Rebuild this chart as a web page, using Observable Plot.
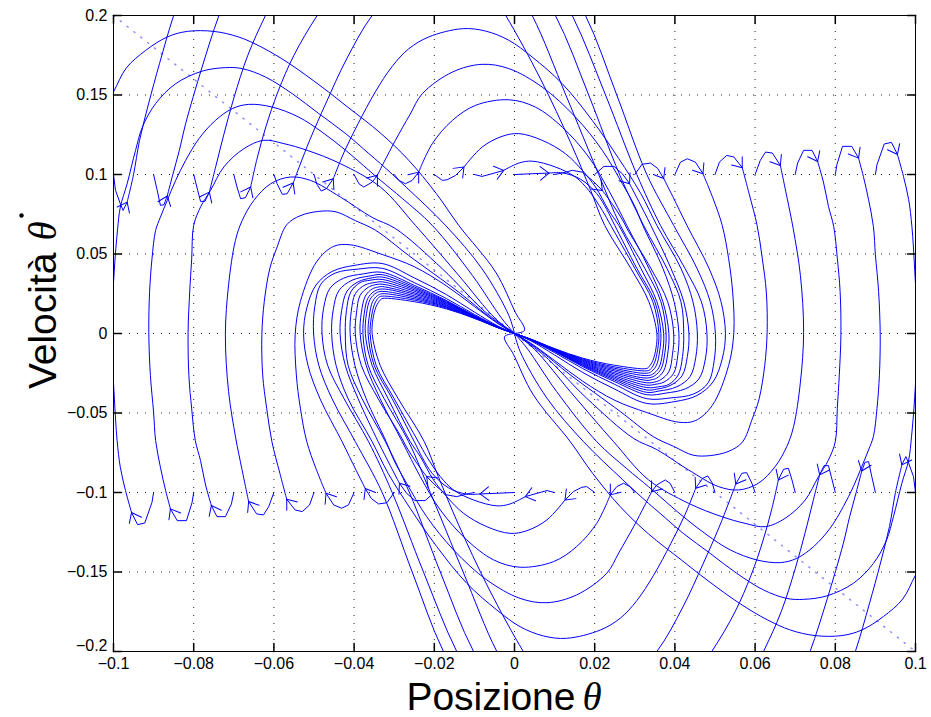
<!DOCTYPE html>
<html><head><meta charset="utf-8">
<script src="https://cdn.jsdelivr.net/npm/d3@7"></script>
<script src="https://cdn.jsdelivr.net/npm/@observablehq/plot@0.6"></script>
<style>body{margin:0;background:#fff}</style>
</head><body><div id="chart"></div>
<script>
const xTicks = [-0.1,-0.08,-0.06,-0.04,-0.02,0,0.02,0.04,0.06,0.08,0.1];
const xTickLabels = ["−0.1","−0.08","−0.06","−0.04","−0.02","0","0.02","0.04","0.06","0.08","0.1"];
const yTicks = [-0.2,-0.15,-0.1,-0.05,0,0.05,0.1,0.15,0.2];
const yTickLabels = ["−0.2","−0.15","−0.1","−0.05","0","0.05","0.1","0.15","0.2"];
const startX = [-0.1,-0.09,-0.08,-0.07,-0.06,-0.05,-0.04,-0.03,-0.02,-0.01,0,0.01,0.02,0.03,0.04,0.05,0.06,0.07,0.08,0.09,0.1];
const slideX = [-0.1, 0.1];
const slideY = [0.2, -0.2];

// trajectories starting on theta' = +0.1 : initial transient (ending at the arrow tip) and continuation
const upperV = [
[[-0.1,0.1],[-0.0995,0.09],[-0.0983,0.0816],[-0.0976,0.0774],[-0.0966,0.0826]],
[[-0.09,0.1],[-0.0891,0.09],[-0.0883,0.0806],[-0.0874,0.081],[-0.0866,0.0865]],
[[-0.08,0.1],[-0.079,0.09],[-0.0783,0.0831],[-0.0772,0.0831],[-0.0761,0.0889]],
[[-0.07,0.1],[-0.0692,0.0921],[-0.0683,0.0848],[-0.0671,0.0854],[-0.0658,0.0921]],
[[-0.06,0.1],[-0.0592,0.0942],[-0.0579,0.0875],[-0.0567,0.0879],[-0.0552,0.0946]],
[[-0.05,0.1],[-0.0493,0.094],[-0.0482,0.0896],[-0.0469,0.0911],[-0.0452,0.0973]],
[[-0.04,0.1],[-0.0388,0.0942],[-0.0376,0.0921],[-0.0355,0.0952],[-0.0342,0.0995]],
[[-0.03,0.1],[-0.0288,0.0963],[-0.0272,0.0942],[-0.0255,0.0963],[-0.0239,0.1015]],
[[-0.02,0.1],[-0.018,0.0963],[-0.0168,0.0967],[-0.0147,0.0994],[-0.0126,0.1047]],
[[-0.01,0.1],[-0.0081,0.0988],[-0.0056,0.1005],[-0.0027,0.1026]],
[[0,0.1],[0.0044,0.1005],[0.0086,0.1009]],
[[0.01,0.1],[0.0119,0.1009],[0.0144,0.1026],[0.0169,0.1015],[0.0194,0.0963],[0.0219,0.09]],
[[0.02,0.1],[0.0223,0.1051],[0.0248,0.1051],[0.0269,0.1005],[0.0287,0.0942]],
[[0.03,0.1],[0.0318,0.1064],[0.0339,0.1072],[0.0357,0.1038],[0.0372,0.0975]],
[[0.04,0.1],[0.0414,0.1078],[0.0431,0.1099],[0.0451,0.1078],[0.047,0.1005]],
[[0.05,0.1],[0.0511,0.1078],[0.0529,0.112],[0.0547,0.111],[0.0568,0.1043]],
[[0.06,0.1],[0.0613,0.1089],[0.0626,0.1141],[0.0643,0.1135],[0.0663,0.1057]],
[[0.07,0.1],[0.0706,0.1072],[0.0721,0.1152],[0.0742,0.1152],[0.0756,0.1082]],
[[0.08,0.1],[0.0804,0.1062],[0.0818,0.1177],[0.0841,0.1177],[0.0858,0.1103]],
[[0.09,0.1],[0.0904,0.1062],[0.0922,0.1192],[0.094,0.1202],[0.0955,0.1126]],
[[0.1,0.1],[0.1005,0.108],[0.1025,0.122],[0.1045,0.123],[0.106,0.115]]
];
const upperPath = [
[[-0.095,0.1],[-0.0935,0.1215],[-0.0912,0.145],[-0.0885,0.17],[-0.085,0.2],[-0.08,0.235],[0.008,0.24],[0.0177,0.2],[0.0255,0.15],[0.033,0.1],[0.0397,0.068],[0.0455,0.041],[0.0488,0.02],[0.0501,0],[0.0498,-0.017],[0.0483,-0.031],[0.0447,-0.038],[0.039,-0.0405],[0.033,-0.041],[0.025,-0.032],[0.017,-0.022],[0.01,-0.012],[0.004,-0.0042],[0,0]],
[[-0.0852,0.1],[-0.0836,0.115],[-0.082,0.132],[-0.0779,0.1676],[-0.0737,0.2],[-0.068,0.235],[0.004,0.245],[0.0144,0.2],[0.0227,0.15],[0.0305,0.1],[0.0364,0.068],[0.0425,0.041],[0.0466,0.02],[0.048,0],[0.0476,-0.016],[0.046,-0.0285],[0.0426,-0.0348],[0.0377,-0.0375],[0.033,-0.0385],[0.025,-0.0303],[0.017,-0.0208],[0.01,-0.0113],[0.004,-0.004],[0,0]],
[[-0.0745,0.105],[-0.0725,0.125],[-0.07,0.148],[-0.0665,0.175],[-0.0621,0.2],[-0.055,0.235],[0,0.24],[0.0102,0.2],[0.0185,0.15],[0.0262,0.1],[0.0322,0.068],[0.038,0.041],[0.0415,0.02],[0.0422,0],[0.0419,-0.0145],[0.0408,-0.0262],[0.0385,-0.032],[0.036,-0.0335],[0.033,-0.034],[0.025,-0.0275],[0.017,-0.0194],[0.01,-0.0108],[0.004,-0.0039],[0,0]],
[[-0.0642,0.11],[-0.062,0.13],[-0.059,0.152],[-0.055,0.175],[-0.0492,0.2],[-0.042,0.225],[-0.003,0.23],[0.0044,0.2],[0.0128,0.15],[0.021,0.1],[0.0264,0.068],[0.0325,0.041],[0.0365,0.02],[0.0378,0],[0.0375,-0.012],[0.0366,-0.022],[0.035,-0.0265],[0.033,-0.028],[0.025,-0.0237],[0.017,-0.0174],[0.01,-0.0102],[0.004,-0.0037],[0,0]],
[[-0.0535,0.106],[-0.051,0.122],[-0.047,0.145],[-0.042,0.172],[-0.0355,0.2],[-0.028,0.22],[-0.008,0.222],[-0.0022,0.2],[0.0065,0.16],[0.014,0.12],[0.019,0.09],[0.0225,0.068],[0.029,0.041],[0.0335,0.02],[0.0355,0],[0.0353,-0.009],[0.0345,-0.017],[0.0335,-0.021],[0.033,-0.022],[0.025,-0.02],[0.017,-0.0155],[0.01,-0.0095],[0.004,-0.0035],[0,0]],
[[-0.0425,0.114],[-0.039,0.132],[-0.0347,0.152],[-0.0305,0.168],[-0.0264,0.179],[-0.0214,0.1865],[-0.013,0.1917],[-0.0072,0.1902],[-0.0014,0.1844],[0.0044,0.1739],[0.0119,0.1571],[0.0194,0.134],[0.026,0.11],[0.0315,0.088],[0.0355,0.068],[0.0415,0.041],[0.0445,0.02],[0.0456,0],[0.0452,-0.015],[0.0438,-0.027],[0.0405,-0.0335],[0.036,-0.0362],[0.033,-0.037],[0.025,-0.0293],[0.017,-0.0203],[0.01,-0.0112],[0.004,-0.004],[0,0]],
[[-0.0325,0.108],[-0.0297,0.1215],[-0.026,0.138],[-0.023,0.1508],[-0.0155,0.1644],[-0.0081,0.1693],[-0.0014,0.1666],[0.0069,0.155],[0.0152,0.1361],[0.0219,0.1152],[0.0269,0.0942],[0.03,0.08],[0.032,0.068],[0.037,0.041],[0.0398,0.02],[0.041,0],[0.0407,-0.014],[0.0397,-0.025],[0.0373,-0.0305],[0.035,-0.032],[0.033,-0.0325],[0.025,-0.0266],[0.017,-0.0189],[0.01,-0.0107],[0.004,-0.0038],[0,0]],
[[-0.0205,0.1194],[-0.0155,0.134],[-0.0097,0.1435],[-0.0014,0.147],[0.0052,0.1424],[0.0119,0.1298],[0.0185,0.111],[0.0235,0.09],[0.028,0.068],[0.0335,0.041],[0.037,0.02],[0.0385,0],[0.0382,-0.013],[0.0372,-0.0235],[0.0355,-0.028],[0.034,-0.0292],[0.033,-0.0295],[0.025,-0.0247],[0.017,-0.0179],[0.01,-0.0103],[0.004,-0.0037],[0,0]],
[[-0.0081,0.1172],[-0.0031,0.124],[0.0011,0.1257],[0.0069,0.1215],[0.0127,0.1131],[0.0169,0.1026],[0.0202,0.0921],[0.0235,0.0774],[0.026,0.068],[0.0315,0.041],[0.0355,0.02],[0.0372,0],[0.0369,-0.0125],[0.036,-0.0215],[0.0345,-0.0255],[0.033,-0.0265],[0.025,-0.0228],[0.017,-0.0169],[0.01,-0.01],[0.004,-0.0036],[0,0]],
[[0.0011,0.1072],[0.0044,0.1084],[0.0102,0.1047],[0.0152,0.0984],[0.0185,0.09],[0.0219,0.0774],[0.024,0.068],[0.03,0.041],[0.0345,0.02],[0.036,0],[0.0357,-0.01],[0.0349,-0.0185],[0.0338,-0.0228],[0.033,-0.0235],[0.025,-0.021],[0.017,-0.016],[0.01,-0.0097],[0.004,-0.0035],[0,0]],
[[0.012,0.101],[0.0165,0.097],[0.0205,0.088],[0.023,0.078],[0.025,0.068],[0.0305,0.041],[0.035,0.02],[0.0365,0],[0.0362,-0.011],[0.0354,-0.02],[0.0342,-0.0238],[0.033,-0.025],[0.025,-0.0219],[0.017,-0.0165],[0.01,-0.0098],[0.004,-0.0036],[0,0]],
[[0.0245,0.081],[0.0268,0.072],[0.0285,0.064],[0.034,0.041],[0.0382,0.02],[0.0397,0],[0.0394,-0.013],[0.0385,-0.024],[0.0365,-0.029],[0.035,-0.0305],[0.033,-0.031],[0.025,-0.0256],[0.017,-0.0184],[0.01,-0.0105],[0.004,-0.0038],[0,0]],
[[0.031,0.083],[0.034,0.068],[0.039,0.041],[0.0422,0.02],[0.0435,0],[0.0431,-0.0145],[0.0418,-0.0265],[0.039,-0.0325],[0.0355,-0.035],[0.033,-0.0355],[0.025,-0.0284],[0.017,-0.0198],[0.01,-0.011],[0.004,-0.0039],[0,0]],
[[0.0395,0.086],[0.043,0.068],[0.0485,0.041],[0.0515,0.02],[0.0526,0],[0.0518,-0.016],[0.0495,-0.0305],[0.0455,-0.039],[0.04,-0.0428],[0.033,-0.044],[0.025,-0.035],[0.017,-0.0245],[0.01,-0.0135],[0.004,-0.0045],[0,0]],
[[0.0495,0.085],[0.0518,0.068],[0.0534,0.047],[0.0544,0.026],[0.0547,0.0008],[0.0534,-0.0201],[0.0493,-0.0453],[0.0451,-0.0548],[0.041,-0.0558],[0.033,-0.0497],[0.025,-0.042],[0.017,-0.03],[0.01,-0.017],[0.004,-0.006],[0,0]],
[[0.0585,0.088],[0.0605,0.068],[0.0618,0.047],[0.0628,0.026],[0.063,0.0008],[0.0624,-0.0201],[0.061,-0.0411],[0.0593,-0.0537],[0.0568,-0.0684],[0.0535,-0.074],[0.0488,-0.0768],[0.0445,-0.0765],[0.0397,-0.071],[0.0347,-0.065],[0.0264,-0.0491],[0.0139,-0.026],[0.006,-0.01],[0,0]],
[[0.068,0.085],[0.0695,0.066],[0.0713,0.0365],[0.0721,0.0008],[0.0713,-0.0306],[0.0696,-0.0585],[0.0679,-0.0711],[0.065,-0.0837],[0.0608,-0.0942],[0.0559,-0.0984],[0.0509,-0.0963],[0.0434,-0.0858],[0.0355,-0.073],[0.0297,-0.066],[0.018,-0.0407],[0.0072,-0.0134],[0,0]],
[[0.0771,0.0946],[0.0783,0.0799],[0.0796,0.0673],[0.0805,0.0474],[0.0812,0.0264],[0.0814,-0.0008],[0.081,-0.026],[0.0805,-0.047],[0.08,-0.068],[0.0782,-0.08],[0.0758,-0.09],[0.0725,-0.1047],[0.0675,-0.1162],[0.0625,-0.1215],[0.0575,-0.1194],[0.0517,-0.1152],[0.0434,-0.1068],[0.0334,-0.092],[0.0247,-0.068],[0.0139,-0.0365],[0.0047,-0.0092],[0,0]],
[[0.087,0.0988],[0.0883,0.0841],[0.0895,0.0673],[0.09,0.0495],[0.0908,0.0264],[0.0912,-0.0008],[0.091,-0.026],[0.0904,-0.047],[0.0895,-0.0648],[0.0883,-0.0732],[0.0866,-0.0837],[0.0845,-0.0963],[0.082,-0.1089],[0.0787,-0.1225],[0.0746,-0.134],[0.0704,-0.1414],[0.0663,-0.1441],[0.0604,-0.1424],[0.0538,-0.1361],[0.048,-0.1267],[0.0421,-0.1152],[0.0363,-0.1026],[0.0334,-0.0963],[0.028,-0.085],[0.0205,-0.068],[0.0105,-0.0365],[0.0031,-0.0092],[0,0]],
[[0.097,0.0988],[0.0983,0.0841],[0.0991,0.0673],[0.0998,0.04],[0.1005,0],[0.0998,-0.04],[0.099,-0.065],[0.0983,-0.0795],[0.0966,-0.0942],[0.0945,-0.1152],[0.0928,-0.1298],[0.0895,-0.1446],[0.0845,-0.1571],[0.0779,-0.165],[0.0721,-0.1672],[0.0679,-0.1666],[0.0621,-0.1613],[0.0554,-0.1508],[0.0488,-0.1383],[0.0421,-0.1257],[0.0363,-0.1131],[0.0334,-0.1068],[0.027,-0.092],[0.0172,-0.068],[0.0081,-0.0407],[0.0014,-0.0113],[0,0]],
[[0.108,0.1],[0.11,0.08],[0.112,0.04],[0.113,0],[0.112,-0.05],[0.109,-0.1],[0.105,-0.13],[0.1,-0.152],[0.0968,-0.167],[0.092,-0.178],[0.0866,-0.1865],[0.0816,-0.19],[0.075,-0.19],[0.0688,-0.1865],[0.063,-0.18],[0.0563,-0.17],[0.048,-0.155],[0.0416,-0.1424],[0.0334,-0.126],[0.0264,-0.109],[0.0195,-0.088],[0.0139,-0.068],[0.0047,-0.0386],[-0.0002,-0.0134],[-0.0025,-0.002],[0,0]]
];

// trajectories starting on theta' = -0.1
const lowerV = [
[[-0.1,-0.1],[-0.1005,-0.108],[-0.1025,-0.122],[-0.1045,-0.123],[-0.106,-0.115]],
[[-0.09,-0.1],[-0.0904,-0.1062],[-0.0922,-0.1192],[-0.094,-0.1202],[-0.0955,-0.1126]],
[[-0.08,-0.1],[-0.0804,-0.1062],[-0.0818,-0.1177],[-0.0841,-0.1177],[-0.0858,-0.1103]],
[[-0.07,-0.1],[-0.0706,-0.1072],[-0.0721,-0.1152],[-0.0742,-0.1152],[-0.0756,-0.1082]],
[[-0.06,-0.1],[-0.0613,-0.1089],[-0.0626,-0.1141],[-0.0643,-0.1135],[-0.0663,-0.1057]],
[[-0.05,-0.1],[-0.0511,-0.1078],[-0.0529,-0.112],[-0.0547,-0.111],[-0.0568,-0.1043]],
[[-0.04,-0.1],[-0.0414,-0.1078],[-0.0431,-0.1099],[-0.0451,-0.1078],[-0.047,-0.1005]],
[[-0.03,-0.1],[-0.0318,-0.1064],[-0.0339,-0.1072],[-0.0357,-0.1038],[-0.0372,-0.0975]],
[[-0.02,-0.1],[-0.0223,-0.1051],[-0.0248,-0.1051],[-0.0269,-0.1005],[-0.0287,-0.0942]],
[[-0.01,-0.1],[-0.0119,-0.1009],[-0.0144,-0.1026],[-0.0169,-0.1015],[-0.0194,-0.0963],[-0.0219,-0.09]],
[[0,-0.1],[-0.0044,-0.1005],[-0.0086,-0.1009]],
[[0.01,-0.1],[0.0081,-0.0988],[0.0056,-0.1005],[0.0027,-0.1026]],
[[0.02,-0.1],[0.018,-0.0963],[0.0168,-0.0967],[0.0147,-0.0994],[0.0126,-0.1047]],
[[0.03,-0.1],[0.0288,-0.0963],[0.0272,-0.0942],[0.0255,-0.0963],[0.0239,-0.1015]],
[[0.04,-0.1],[0.0388,-0.0942],[0.0376,-0.0921],[0.0355,-0.0952],[0.0342,-0.0995]],
[[0.05,-0.1],[0.0493,-0.094],[0.0482,-0.0896],[0.0469,-0.0911],[0.0452,-0.0973]],
[[0.06,-0.1],[0.0592,-0.0942],[0.0579,-0.0875],[0.0567,-0.0879],[0.0552,-0.0946]],
[[0.07,-0.1],[0.0692,-0.0921],[0.0683,-0.0848],[0.0671,-0.0854],[0.0658,-0.0921]],
[[0.08,-0.1],[0.079,-0.09],[0.0783,-0.0831],[0.0772,-0.0831],[0.0761,-0.0889]],
[[0.09,-0.1],[0.0891,-0.09],[0.0883,-0.0806],[0.0874,-0.081],[0.0866,-0.0865]],
[[0.1,-0.1],[0.0995,-0.09],[0.0983,-0.0816],[0.0976,-0.0774],[0.0966,-0.0826]]
];
const lowerPath = [
[[-0.108,-0.1],[-0.11,-0.08],[-0.112,-0.04],[-0.113,0],[-0.112,0.05],[-0.109,0.1],[-0.105,0.13],[-0.1,0.152],[-0.0968,0.167],[-0.092,0.178],[-0.0866,0.1865],[-0.0816,0.19],[-0.075,0.19],[-0.0688,0.1865],[-0.063,0.18],[-0.0563,0.17],[-0.048,0.155],[-0.0416,0.1424],[-0.0334,0.126],[-0.0264,0.109],[-0.0195,0.088],[-0.0139,0.068],[-0.0047,0.0386],[0.0002,0.0134],[0.0025,0.002],[0,0]],
[[-0.097,-0.0988],[-0.0983,-0.0841],[-0.0991,-0.0673],[-0.0998,-0.04],[-0.1005,0],[-0.0998,0.04],[-0.099,0.065],[-0.0983,0.0795],[-0.0966,0.0942],[-0.0945,0.1152],[-0.0928,0.1298],[-0.0895,0.1446],[-0.0845,0.1571],[-0.0779,0.165],[-0.0721,0.1672],[-0.0679,0.1666],[-0.0621,0.1613],[-0.0554,0.1508],[-0.0488,0.1383],[-0.0421,0.1257],[-0.0363,0.1131],[-0.0334,0.1068],[-0.027,0.092],[-0.0172,0.068],[-0.0081,0.0407],[-0.0014,0.0113],[0,0]],
[[-0.087,-0.0988],[-0.0883,-0.0841],[-0.0895,-0.0673],[-0.09,-0.0495],[-0.0908,-0.0264],[-0.0912,0.0008],[-0.091,0.026],[-0.0904,0.047],[-0.0895,0.0648],[-0.0883,0.0732],[-0.0866,0.0837],[-0.0845,0.0963],[-0.082,0.1089],[-0.0787,0.1225],[-0.0746,0.134],[-0.0704,0.1414],[-0.0663,0.1441],[-0.0604,0.1424],[-0.0538,0.1361],[-0.048,0.1267],[-0.0421,0.1152],[-0.0363,0.1026],[-0.0334,0.0963],[-0.028,0.085],[-0.0205,0.068],[-0.0105,0.0365],[-0.0031,0.0092],[0,0]],
[[-0.0771,-0.0946],[-0.0783,-0.0799],[-0.0796,-0.0673],[-0.0805,-0.0474],[-0.0812,-0.0264],[-0.0814,0.0008],[-0.081,0.026],[-0.0805,0.047],[-0.08,0.068],[-0.0782,0.08],[-0.0758,0.09],[-0.0725,0.1047],[-0.0675,0.1162],[-0.0625,0.1215],[-0.0575,0.1194],[-0.0517,0.1152],[-0.0434,0.1068],[-0.0334,0.092],[-0.0247,0.068],[-0.0139,0.0365],[-0.0047,0.0092],[0,0]],
[[-0.068,-0.085],[-0.0695,-0.066],[-0.0713,-0.0365],[-0.0721,-0.0008],[-0.0713,0.0306],[-0.0696,0.0585],[-0.0679,0.0711],[-0.065,0.0837],[-0.0608,0.0942],[-0.0559,0.0984],[-0.0509,0.0963],[-0.0434,0.0858],[-0.0355,0.073],[-0.0297,0.066],[-0.018,0.0407],[-0.0072,0.0134],[0,0]],
[[-0.0585,-0.088],[-0.0605,-0.068],[-0.0618,-0.047],[-0.0628,-0.026],[-0.063,-0.0008],[-0.0624,0.0201],[-0.061,0.0411],[-0.0593,0.0537],[-0.0568,0.0684],[-0.0535,0.074],[-0.0488,0.0768],[-0.0445,0.0765],[-0.0397,0.071],[-0.0347,0.065],[-0.0264,0.0491],[-0.0139,0.026],[-0.006,0.01],[0,0]],
[[-0.0495,-0.085],[-0.0518,-0.068],[-0.0534,-0.047],[-0.0544,-0.026],[-0.0547,-0.0008],[-0.0534,0.0201],[-0.0493,0.0453],[-0.0451,0.0548],[-0.041,0.0558],[-0.033,0.0497],[-0.025,0.042],[-0.017,0.03],[-0.01,0.017],[-0.004,0.006],[0,0]],
[[-0.0395,-0.086],[-0.043,-0.068],[-0.0485,-0.041],[-0.0515,-0.02],[-0.0526,0],[-0.0518,0.016],[-0.0495,0.0305],[-0.0455,0.039],[-0.04,0.0428],[-0.033,0.044],[-0.025,0.035],[-0.017,0.0245],[-0.01,0.0135],[-0.004,0.0045],[0,0]],
[[-0.031,-0.083],[-0.034,-0.068],[-0.039,-0.041],[-0.0422,-0.02],[-0.0435,0],[-0.0431,0.0145],[-0.0418,0.0265],[-0.039,0.0325],[-0.0355,0.035],[-0.033,0.0355],[-0.025,0.0284],[-0.017,0.0198],[-0.01,0.011],[-0.004,0.0039],[0,0]],
[[-0.0245,-0.081],[-0.0268,-0.072],[-0.0285,-0.064],[-0.034,-0.041],[-0.0382,-0.02],[-0.0397,0],[-0.0394,0.013],[-0.0385,0.024],[-0.0365,0.029],[-0.035,0.0305],[-0.033,0.031],[-0.025,0.0256],[-0.017,0.0184],[-0.01,0.0105],[-0.004,0.0038],[0,0]],
[[-0.012,-0.101],[-0.0165,-0.097],[-0.0205,-0.088],[-0.023,-0.078],[-0.025,-0.068],[-0.0305,-0.041],[-0.035,-0.02],[-0.0365,0],[-0.0362,0.011],[-0.0354,0.02],[-0.0342,0.0238],[-0.033,0.025],[-0.025,0.0219],[-0.017,0.0165],[-0.01,0.0098],[-0.004,0.0036],[0,0]],
[[-0.0011,-0.1072],[-0.0044,-0.1084],[-0.0102,-0.1047],[-0.0152,-0.0984],[-0.0185,-0.09],[-0.0219,-0.0774],[-0.024,-0.068],[-0.03,-0.041],[-0.0345,-0.02],[-0.036,0],[-0.0357,0.01],[-0.0349,0.0185],[-0.0338,0.0228],[-0.033,0.0235],[-0.025,0.021],[-0.017,0.016],[-0.01,0.0097],[-0.004,0.0035],[0,0]],
[[0.0081,-0.1172],[0.0031,-0.124],[-0.0011,-0.1257],[-0.0069,-0.1215],[-0.0127,-0.1131],[-0.0169,-0.1026],[-0.0202,-0.0921],[-0.0235,-0.0774],[-0.026,-0.068],[-0.0315,-0.041],[-0.0355,-0.02],[-0.0372,0],[-0.0369,0.0125],[-0.036,0.0215],[-0.0345,0.0255],[-0.033,0.0265],[-0.025,0.0228],[-0.017,0.0169],[-0.01,0.01],[-0.004,0.0036],[0,0]],
[[0.0205,-0.1194],[0.0155,-0.134],[0.0097,-0.1435],[0.0014,-0.147],[-0.0052,-0.1424],[-0.0119,-0.1298],[-0.0185,-0.111],[-0.0235,-0.09],[-0.028,-0.068],[-0.0335,-0.041],[-0.037,-0.02],[-0.0385,0],[-0.0382,0.013],[-0.0372,0.0235],[-0.0355,0.028],[-0.034,0.0292],[-0.033,0.0295],[-0.025,0.0247],[-0.017,0.0179],[-0.01,0.0103],[-0.004,0.0037],[0,0]],
[[0.0325,-0.108],[0.0297,-0.1215],[0.026,-0.138],[0.023,-0.1508],[0.0155,-0.1644],[0.0081,-0.1693],[0.0014,-0.1666],[-0.0069,-0.155],[-0.0152,-0.1361],[-0.0219,-0.1152],[-0.0269,-0.0942],[-0.03,-0.08],[-0.032,-0.068],[-0.037,-0.041],[-0.0398,-0.02],[-0.041,0],[-0.0407,0.014],[-0.0397,0.025],[-0.0373,0.0305],[-0.035,0.032],[-0.033,0.0325],[-0.025,0.0266],[-0.017,0.0189],[-0.01,0.0107],[-0.004,0.0038],[0,0]],
[[0.0425,-0.114],[0.039,-0.132],[0.0347,-0.152],[0.0305,-0.168],[0.0264,-0.179],[0.0214,-0.1865],[0.013,-0.1917],[0.0072,-0.1902],[0.0014,-0.1844],[-0.0044,-0.1739],[-0.0119,-0.1571],[-0.0194,-0.134],[-0.026,-0.11],[-0.0315,-0.088],[-0.0355,-0.068],[-0.0415,-0.041],[-0.0445,-0.02],[-0.0456,0],[-0.0452,0.015],[-0.0438,0.027],[-0.0405,0.0335],[-0.036,0.0362],[-0.033,0.037],[-0.025,0.0293],[-0.017,0.0203],[-0.01,0.0112],[-0.004,0.004],[0,0]],
[[0.0535,-0.106],[0.051,-0.122],[0.047,-0.145],[0.042,-0.172],[0.0355,-0.2],[0.028,-0.22],[0.008,-0.222],[0.0022,-0.2],[-0.0065,-0.16],[-0.014,-0.12],[-0.019,-0.09],[-0.0225,-0.068],[-0.029,-0.041],[-0.0335,-0.02],[-0.0355,0],[-0.0353,0.009],[-0.0345,0.017],[-0.0335,0.021],[-0.033,0.022],[-0.025,0.02],[-0.017,0.0155],[-0.01,0.0095],[-0.004,0.0035],[0,0]],
[[0.0642,-0.11],[0.062,-0.13],[0.059,-0.152],[0.055,-0.175],[0.0492,-0.2],[0.042,-0.225],[0.003,-0.23],[-0.0044,-0.2],[-0.0128,-0.15],[-0.021,-0.1],[-0.0264,-0.068],[-0.0325,-0.041],[-0.0365,-0.02],[-0.0378,0],[-0.0375,0.012],[-0.0366,0.022],[-0.035,0.0265],[-0.033,0.028],[-0.025,0.0237],[-0.017,0.0174],[-0.01,0.0102],[-0.004,0.0037],[0,0]],
[[0.0745,-0.105],[0.0725,-0.125],[0.07,-0.148],[0.0665,-0.175],[0.0621,-0.2],[0.055,-0.235],[0,-0.24],[-0.0102,-0.2],[-0.0185,-0.15],[-0.0262,-0.1],[-0.0322,-0.068],[-0.038,-0.041],[-0.0415,-0.02],[-0.0422,0],[-0.0419,0.0145],[-0.0408,0.0262],[-0.0385,0.032],[-0.036,0.0335],[-0.033,0.034],[-0.025,0.0275],[-0.017,0.0194],[-0.01,0.0108],[-0.004,0.0039],[0,0]],
[[0.0852,-0.1],[0.0836,-0.115],[0.082,-0.132],[0.0779,-0.1676],[0.0737,-0.2],[0.068,-0.235],[-0.004,-0.245],[-0.0144,-0.2],[-0.0227,-0.15],[-0.0305,-0.1],[-0.0364,-0.068],[-0.0425,-0.041],[-0.0466,-0.02],[-0.048,0],[-0.0476,0.016],[-0.046,0.0285],[-0.0426,0.0348],[-0.0377,0.0375],[-0.033,0.0385],[-0.025,0.0303],[-0.017,0.0208],[-0.01,0.0113],[-0.004,0.004],[0,0]],
[[0.095,-0.1],[0.0935,-0.1215],[0.0912,-0.145],[0.0885,-0.17],[0.085,-0.2],[0.08,-0.235],[-0.008,-0.24],[-0.0177,-0.2],[-0.0255,-0.15],[-0.033,-0.1],[-0.0397,-0.068],[-0.0455,-0.041],[-0.0488,-0.02],[-0.0501,0],[-0.0498,0.017],[-0.0483,0.031],[-0.0447,0.038],[-0.039,0.0405],[-0.033,0.041],[-0.025,0.032],[-0.017,0.022],[-0.01,0.012],[-0.004,0.0042],[0,0]]
];

const W = 931, H = 717, ML = 113, MR = 16, MT = 15, MB = 66;
const kx = (W - ML - MR) / 0.2, ky = (H - MT - MB) / 0.4;
const BLUE = "#0000ff";

const vRows = [], pRows = [], arrows = [];
[["u", upperV, upperPath], ["l", lowerV, lowerPath]].forEach(([tag, Vs, Ps]) => {
  Vs.forEach((V, i) => {
    const id = tag + startX[i];
    V.forEach(([x, y]) => vRows.push({id, x, y}));
    const tip = V[V.length - 1];
    [tip].concat(Ps[i]).forEach(([x, y]) => pRows.push({id, x, y}));
    const [px, py] = V[V.length - 2], [tx, ty] = tip;
    arrows.push({x: tx, y: ty, r: Math.atan2((tx - px) * kx, (ty - py) * ky) * 180 / Math.PI});
  });
});
const slide = slideX.map((x, i) => ({x, y: slideY[i]}));

const wingShape = {draw(ctx, l) {
  const a = 38 * Math.PI / 180, L = 11;
  ctx.moveTo(-L * Math.sin(a), -l + L * Math.cos(a));
  ctx.lineTo(0, -l);
  ctx.lineTo(L * Math.sin(a), -l + L * Math.cos(a));
}};
const tickShape = {draw(ctx, l) { ctx.moveTo(0, 0); ctx.lineTo(0, -l); }};
const yMain = yTicks.filter(d => d !== -0.2);

const chart = Plot.plot({
  width: W, height: H,
  marginLeft: ML, marginRight: MR, marginTop: MT, marginBottom: MB,
  x: {domain: [-0.1, 0.1], axis: null},
  y: {domain: [-0.2, 0.2], axis: null},
  style: {background: "#fff", fontFamily: "'Liberation Sans', Arial, sans-serif"},
  marks: [
    Plot.ruleX(xTicks, {stroke: "#222", strokeDasharray: "1,7"}),
    Plot.ruleY(yTicks, {stroke: "#222", strokeDasharray: "1,7"}),
    Plot.line(slide, {x: "x", y: "y", stroke: BLUE, strokeOpacity: 0.45, strokeDasharray: "1.2,7.5"}),
    Plot.line(vRows, {x: "x", y: "y", z: "id", stroke: BLUE, strokeWidth: 1, clip: true}),
    Plot.line(pRows, {x: "x", y: "y", z: "id", stroke: BLUE, strokeWidth: 1, curve: "catmull-rom", clip: true}),
    Plot.vector(arrows, {x: "x", y: "y", rotate: "r", length: 11, anchor: "end", shape: wingShape, stroke: BLUE, strokeWidth: 1, clip: true}),
    Plot.frame({stroke: "#000", strokeWidth: 1}),
    Plot.vector(xTicks, {x: d => d, frameAnchor: "bottom", rotate: 0, length: 8, anchor: "start", shape: tickShape, stroke: "#000"}),
    Plot.vector(xTicks, {x: d => d, frameAnchor: "top", rotate: 180, length: 8, anchor: "start", shape: tickShape, stroke: "#000"}),
    Plot.vector(yTicks, {y: d => d, frameAnchor: "left", rotate: 90, length: 8, anchor: "start", shape: tickShape, stroke: "#000"}),
    Plot.vector(yTicks, {y: d => d, frameAnchor: "right", rotate: -90, length: 8, anchor: "start", shape: tickShape, stroke: "#000"}),
    Plot.axisX({ticks: xTicks, tickFormat: d => xTickLabels[xTicks.indexOf(d)], tickSize: 0, tickPadding: 6, fontSize: 16, anchor: "bottom", label: null}),
    Plot.axisY({ticks: yMain, tickFormat: d => yTickLabels[yTicks.indexOf(d)], tickSize: 0, tickPadding: 6, fontSize: 16, anchor: "left", label: null}),
    Plot.axisY({ticks: [-0.2], tickFormat: d => yTickLabels[yTicks.indexOf(d)], tickSize: 0, tickPadding: 6, fontSize: 16, anchor: "left", label: null, dy: -6}),
    Plot.text(["Posizione"], {text: d => d, frameAnchor: "bottom", textAnchor: "end", dx: 61, dy: 58, fontSize: 39, fill: "#000"}),
    Plot.text(["θ"], {text: d => d, frameAnchor: "bottom", textAnchor: "start", dx: 68, dy: 58, fontSize: 39, fontStyle: "italic", fontFamily: "'Liberation Serif', serif", fill: "#000"}),
    Plot.text(["Velocità"], {text: d => d, frameAnchor: "left", rotate: -90, textAnchor: "end", dx: -70, dy: -81, fontSize: 39, fill: "#000"}),
    Plot.text(["θ"], {text: d => d, frameAnchor: "left", rotate: -90, textAnchor: "start", dx: -70, dy: -93, fontSize: 39, fontStyle: "italic", fontFamily: "'Liberation Serif', serif", fill: "#000"}),
    Plot.dot([0], {frameAnchor: "left", dx: -92, dy: -118, r: 2.2, fill: "#000", stroke: null})
  ]
});
document.getElementById("chart").appendChild(chart);
</script></body></html>
